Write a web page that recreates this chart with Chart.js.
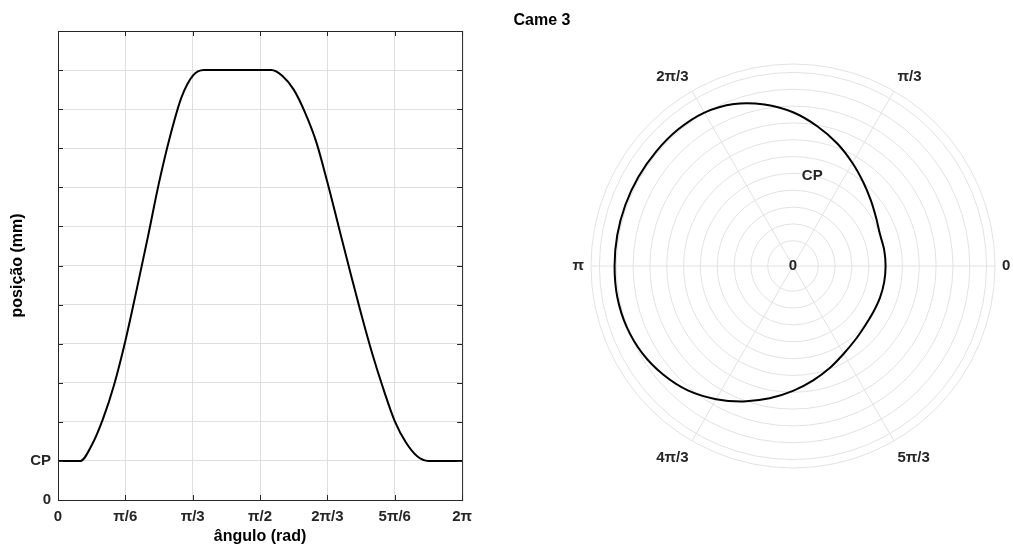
<!DOCTYPE html>
<html>
<head>
<meta charset="utf-8">
<script src="https://cdn.jsdelivr.net/npm/chart.js@4.4.1/dist/chart.umd.min.js"></script>
<style>
  html, body { margin: 0; padding: 0; background: #fff; }
  #wrap { position: relative; width: 1013px; height: 552px; }
  #lift { position: absolute; left: 0; top: 0; }
  #cam { position: absolute; left: 480px; top: 0; }
</style>
</head>
<body>
<div id="wrap">
  <canvas id="lift" width="480" height="552"></canvas>
  <canvas id="cam" width="533" height="552"></canvas>
</div>
<script>
// x axis of the left plot, in degrees of the printed tick labels
const angleDeg = [0, 5, 10, 15, 20, 25, 30, 35, 40, 45, 50, 55, 60, 65, 70, 75, 80, 85, 90,
                  95, 100, 105, 110, 115, 120, 125, 130, 135, 140, 145, 150, 155, 160, 165, 170, 175, 180];
// follower position, in grid units (CP = 1)
const lift = [1, 1, 1, 1.4, 2.07, 2.95, 4.07, 5.37, 6.72, 8.12, 9.32, 10.3, 10.85, 11, 11, 11, 11, 11, 11,
              11, 10.85, 10.5, 9.92, 9.17, 8.13, 7.0, 5.87, 4.77, 3.74, 2.83, 2.02, 1.47, 1.12, 1, 1, 1, 1];

const xTickValues = [0, 30, 60, 90, 120, 150, 180];
const xTickLabels = ['0', 'π/6', 'π/3', 'π/2', '2π/3', '5π/6', '2π'];
const yTickValues = [0, 1];
const yTickLabels = ['0', 'CP'];

// polar plot
const ringValues = [0, 1.5, 2.5, 3.5, 4.5, 5.5, 6.5, 7.5, 8.5, 9.5, 10.5, 11.5, 12];
const cpRing = 5.5;
const liftToRing = 0.51;
const polarTickDeg = [0, 60, 120, 180, 240, 300];
const polarTickLabels = ['0', 'π/3', '2π/3', 'π', '4π/3', '5π/3'];

const FAMILY = '"Liberation Sans", Arial, sans-serif';
const tickFont = { family: FAMILY, size: 15, weight: 'bold' };
const titleFont = { family: FAMILY, size: 16, weight: 'bold' };
const gridColor = '#dfdfdf';

// axes box with inward tick marks, like the original figure
const axesBox = {
  id: 'axesBox',
  afterDraw(chart) {
    const { ctx, chartArea: a, scales: { x, y } } = chart;
    ctx.save();
    ctx.strokeStyle = '#262626';
    ctx.lineWidth = 1;
    ctx.strokeRect(a.left + 0.5, a.top + 0.5, a.right - a.left, a.bottom - a.top);
    ctx.beginPath();
    x.ticks.forEach(t => {
      const px = Math.round(x.getPixelForValue(t.value)) + 0.5;
      ctx.moveTo(px, a.bottom); ctx.lineTo(px, a.bottom - 5);
      ctx.moveTo(px, a.top); ctx.lineTo(px, a.top + 5);
    });
    y.ticks.forEach(t => {
      const py = Math.round(y.getPixelForValue(t.value)) + 0.5;
      ctx.moveTo(a.left, py); ctx.lineTo(a.left + 5, py);
      ctx.moveTo(a.right, py); ctx.lineTo(a.right - 5, py);
    });
    ctx.stroke();
    ctx.restore();
  }
};

new Chart(document.getElementById('lift'), {
  type: 'line',
  data: {
    datasets: [{
      data: angleDeg.map((a, i) => ({ x: a, y: lift[i] })),
      borderColor: '#000',
      borderWidth: 2,
      pointRadius: 0,
      fill: false,
      cubicInterpolationMode: 'monotone'
    }]
  },
  options: {
    responsive: false,
    animation: false,
    layout: { padding: { left: 0, top: 31, right: 17, bottom: 0 } },
    plugins: { legend: { display: false }, tooltip: { enabled: false } },
    scales: {
      x: {
        type: 'linear', min: 0, max: 180,
        afterBuildTicks: s => { s.ticks = xTickValues.map(v => ({ value: v })); },
        afterFit: s => { s.height = 52; },
        ticks: {
          callback: v => xTickLabels[xTickValues.indexOf(v)],
          font: tickFont, color: '#262626', padding: 8, maxRotation: 0, autoSkip: false
        },
        grid: { color: gridColor, drawTicks: false },
        border: { display: false },
        title: { display: true, text: 'ângulo (rad)', font: titleFont, color: '#000', padding: { top: 0, bottom: 6 } }
      },
      y: {
        min: 0, max: 12,
        afterFit: s => { s.width = 58; },
        ticks: {
          stepSize: 1, autoSkip: false,
          callback: v => { const k = yTickValues.indexOf(v); return k < 0 ? '' : yTickLabels[k]; },
          font: tickFont, color: '#262626', padding: 7
        },
        grid: { color: gridColor, drawTicks: false },
        border: { display: false },
        title: { display: true, text: 'posição (mm)', font: titleFont, color: '#000', padding: { top: 8, bottom: 0 } }
      }
    }
  },
  plugins: [axesBox]
});

// polar plot: real angle runs 0..2π, so each left sample is 10° apart here.
// Radar goes clockwise from the start angle, so index i sits at -10·i degrees.
const n = angleDeg.length - 1;
const radarLabels = [];
const radarR = [];
for (let i = 0; i < n; i++) {
  const j = (n - i) % n;
  radarLabels.push(String(angleDeg[j] * 2));
  radarR.push(cpRing + (lift[j] - 1) * liftToRing);
}

const polarText = {
  id: 'polarText',
  afterDraw(chart) {
    const { ctx } = chart;
    const r = chart.scales.r;
    ctx.save();
    ctx.fillStyle = '#262626';
    ctx.font = 'bold 15px ' + FAMILY;
    polarTickDeg.forEach((deg, k) => {
      const idx = ((360 - deg) % 360) / 10;
      const p = r.getPointPosition(idx, r.drawingArea + 7);
      ctx.textBaseline = 'middle';
      let y = p.y;
      if (deg === 0 || deg === 180) {
        ctx.textAlign = deg === 0 ? 'left' : 'right';
      } else {
        ctx.textAlign = (deg < 90 || deg > 270) ? 'left' : 'right';
        y += deg < 180 ? -8 : 11;
      }
      ctx.fillText(polarTickLabels[k], p.x, y);
    });
    // radial labels
    ctx.textAlign = 'center';
    ctx.textBaseline = 'middle';
    ctx.fillText('0', r.xCenter, r.yCenter);
    const d = r.getDistanceFromCenterForValue(cpRing);
    const rAxisAngle = 78 * Math.PI / 180;
    ctx.fillText('CP', r.xCenter + d * Math.cos(rAxisAngle), r.yCenter - d * Math.sin(rAxisAngle));
    // title
    ctx.fillStyle = '#000';
    ctx.font = 'bold 16px ' + FAMILY;
    ctx.fillText('Came 3', 62, 21);
    ctx.restore();
  }
};

new Chart(document.getElementById('cam'), {
  type: 'radar',
  data: {
    labels: radarLabels,
    datasets: [{
      data: radarR,
      borderColor: '#000',
      borderWidth: 2,
      backgroundColor: 'transparent',
      pointRadius: 0,
      pointHitRadius: 0,
      fill: false,
      tension: 0.3
    }]
  },
  options: {
    responsive: false,
    animation: false,
    layout: { padding: { left: 111, right: 18, top: 64, bottom: 84 } },
    plugins: { legend: { display: false }, tooltip: { enabled: false } },
    scales: {
      r: {
        min: 0, max: 12,
        startAngle: 90,
        afterBuildTicks: s => { s.ticks = ringValues.map(v => ({ value: v })); },
        ticks: { display: false },
        grid: { circular: true, color: '#e2e2e2', lineWidth: 1 },
        angleLines: { color: '#e2e2e2', lineWidth: ctx => ctx.index % 6 === 0 ? 1 : 0 },
        pointLabels: { display: false }
      }
    }
  },
  plugins: [polarText]
});
</script>
</body>
</html>
